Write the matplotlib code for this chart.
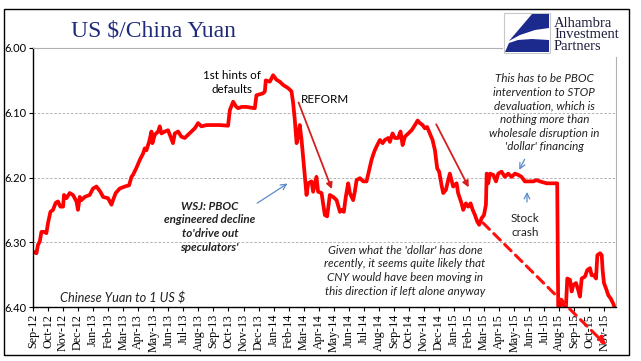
import matplotlib
matplotlib.use("Agg")
import matplotlib.pyplot as plt
from matplotlib.patches import Rectangle, Polygon

# months since Sep-2012 and CNY per USD
months = [0.05, 0.23, 0.33, 0.45, 0.56, 0.78, 0.89, 1.00, 1.16, 1.33, 1.51, 1.66, 1.82, 2.00,
          2.06, 2.22, 2.44, 2.66, 2.89, 2.99, 3.11, 3.22, 3.44, 3.77, 3.99, 4.22, 4.48, 4.66,
          4.99, 5.22, 5.32, 5.50, 5.77, 6.10, 6.39, 6.55, 6.65, 6.88, 7.10, 7.32, 7.43, 7.54,
          7.72, 7.88, 7.94, 8.10, 8.32, 8.43, 8.54, 8.76, 8.98, 9.10, 9.31, 9.43, 9.65, 9.87,
          10.09, 10.31, 10.54, 10.76, 10.98, 11.20, 11.54, 11.98, 12.42, 12.97, 13.09, 13.31,
          13.49, 13.64, 13.87, 14.20, 14.75, 14.86, 15.30, 15.42, 15.48, 15.75, 15.97, 16.19,
          16.41, 16.63, 16.97, 17.19, 17.30, 17.41, 17.53, 17.63, 17.74, 17.86, 17.96, 18.08,
          18.19, 18.30, 18.52, 18.63, 18.85, 18.96, 19.19, 19.29, 19.41, 19.56, 19.74, 19.96,
          20.19, 20.41, 20.52, 20.67, 20.80, 20.96, 21.07, 21.29, 21.40, 21.52, 21.74, 21.96,
          22.18, 22.36, 22.51, 22.62, 22.73, 22.89, 23.07, 23.25, 23.40, 23.62, 23.73, 23.91,
          24.07, 24.28, 24.44, 24.58, 24.73, 24.95, 25.18, 25.40, 25.58, 25.73, 25.91, 26.06,
          26.21, 26.39, 26.57, 26.73, 26.88, 27.01, 27.17, 27.28, 27.46, 27.61, 27.72, 27.94,
          28.17, 28.27, 28.50, 28.61, 28.79, 28.94, 29.10, 29.24, 29.39, 29.54, 29.67, 29.83,
          29.99, 30.12, 30.17, 30.27, 30.39, 30.61, 30.79, 30.94, 31.16, 31.38, 31.60, 31.83,
          32.05, 32.27, 32.49, 32.71, 32.93, 33.27, 33.49, 33.71, 34.16, 34.86, 34.93, 35.15,
          35.30, 35.43, 35.53, 35.71, 35.82, 35.93, 36.11, 36.26, 36.37, 36.49, 36.71, 36.86,
          37.04, 37.15, 37.31, 37.44, 37.53, 37.71, 37.82, 37.88, 37.97, 38.10, 38.26, 38.42,
          38.59, 38.70]
yuan = [6.315, 6.317, 6.304, 6.299, 6.284, 6.284, 6.286, 6.270, 6.253, 6.250, 6.239, 6.237, 6.245, 6.245,
        6.227, 6.232, 6.224, 6.227, 6.237, 6.250, 6.230, 6.235, 6.230, 6.227, 6.217, 6.214, 6.222, 6.230,
        6.232, 6.242, 6.235, 6.224, 6.217, 6.214, 6.212, 6.199, 6.196, 6.185, 6.173, 6.163, 6.155, 6.158,
        6.145, 6.129, 6.147, 6.134, 6.129, 6.121, 6.132, 6.129, 6.127, 6.134, 6.147, 6.132, 6.129, 6.137,
        6.139, 6.134, 6.129, 6.124, 6.116, 6.121, 6.119, 6.119, 6.119, 6.120, 6.096, 6.083,
        6.090, 6.093, 6.091, 6.091, 6.093, 6.073, 6.070, 6.067, 6.050, 6.052, 6.042, 6.049,
        6.052, 6.057, 6.062, 6.067, 6.085, 6.111, 6.147, 6.137, 6.119, 6.142, 6.168, 6.199,
        6.227, 6.209, 6.206, 6.222, 6.199, 6.222, 6.224, 6.240, 6.258, 6.260, 6.227, 6.230,
        6.235, 6.253, 6.250, 6.253, 6.230, 6.209, 6.224, 6.235, 6.222, 6.204, 6.201, 6.206,
        6.206, 6.188, 6.173, 6.165, 6.158, 6.150, 6.142, 6.147, 6.142, 6.139, 6.145, 6.132,
        6.139, 6.139, 6.129, 6.150, 6.137, 6.132, 6.127, 6.119, 6.112, 6.116, 6.119, 6.124,
        6.122, 6.132, 6.142, 6.158, 6.186, 6.191, 6.212, 6.224, 6.219, 6.204, 6.194, 6.214,
        6.209, 6.224, 6.240, 6.250, 6.240, 6.245, 6.240, 6.250, 6.258, 6.268, 6.273, 6.263,
        6.258, 6.242, 6.194, 6.209, 6.194, 6.196, 6.206, 6.194, 6.191, 6.199, 6.194, 6.199,
        6.194, 6.196, 6.199, 6.206, 6.206, 6.206, 6.204, 6.206, 6.209, 6.209, 6.410, 6.389,
        6.397, 6.405, 6.356, 6.358, 6.376, 6.366, 6.363, 6.374, 6.384, 6.356, 6.353, 6.343,
        6.340, 6.351, 6.351, 6.356, 6.320, 6.317, 6.320, 6.343, 6.363, 6.371, 6.382, 6.387,
        6.395, 6.402]

tick_labels = []
for yr in range(12, 16):
    for mo in ["Jan", "Feb", "Mar", "Apr", "May", "Jun", "Jul", "Aug", "Sep", "Oct", "Nov", "Dec"]:
        tick_labels.append("%s-%d" % (mo, yr))
tick_labels = tick_labels[8:47]  # Sep-12 .. Nov-15

sans = "Lato"
navy = "#1F2A7A"
blue = "#5B8BC9"
dark_red = "#D42020"
fs = 8.4

fig = plt.figure(figsize=(6.41, 3.61), dpi=100)
fig.patches.append(Rectangle((4 / 641, 1 - 355 / 361), 625 / 641, 346 / 361, transform=fig.transFigure,
                             fill=False, edgecolor="black", lw=1.0))

ax = fig.add_axes([33 / 641, 1 - 307 / 361, 583 / 641, 259 / 361])
ax.plot(months, yuan, color="#FF0000", lw=2.7, solid_joinstyle="round")

ax.set_xlim(0, 38.77)
ax.set_ylim(6.40, 6.00)
ax.set_yticks([6.00, 6.10, 6.20, 6.30, 6.40])
ax.set_yticklabels(["6.00", "6.10", "6.20", "6.30", "6.40"], fontsize=8, family=sans)
ax.set_xticks(range(len(tick_labels)))
ax.set_xticklabels(tick_labels, rotation=90, fontsize=8.7, family="Liberation Serif")
ax.tick_params(axis="both", direction="out", length=3, width=0.8, pad=2)
for y in [6.10, 6.20, 6.30]:
    ax.axhline(y, color="#A6A6A6", lw=0.6, ls=(0, (3, 2)), zorder=0)
for s in ["top", "right"]:
    ax.spines[s].set_color("#B0B0B0")
    ax.spines[s].set_linewidth(0.8)
for s in ["left", "bottom"]:
    ax.spines[s].set_linewidth(1.0)

# annotations
ax.text(13.23, 6.053, "1st hints of\ndefaults", ha="center", va="center", fontsize=fs,
        family=sans, linespacing=1.3)
ax.text(19.42, 6.080, "REFORM", ha="center", va="center", fontsize=fs, family=sans)
ax.annotate("", xy=(19.94, 6.222), xytext=(17.59, 6.080),
            arrowprops=dict(arrowstyle="-|>", color=dark_red, lw=1.3, mutation_scale=9))
ax.annotate("", xy=(29.06, 6.219), xytext=(26.73, 6.114),
            arrowprops=dict(arrowstyle="-|>", color=dark_red, lw=1.3, mutation_scale=9))
ax.annotate("", xy=(38.25, 6.462), xytext=(29.79, 6.267), annotation_clip=False,
            arrowprops=dict(arrowstyle="-|>", color="#FF1010", lw=2.2, ls=(0, (3, 2)),
                            mutation_scale=11))
ax.text(11.76, 6.276, "WSJ: PBOC\nengineered decline\nto'drive out\nspeculators'", ha="center",
        va="center", fontsize=fs, family=sans, style="italic", weight="bold", linespacing=1.3,
        color="#222222")
ax.annotate("", xy=(17.08, 6.207), xytext=(14.75, 6.242),
            arrowprops=dict(arrowstyle="->", color=blue, lw=0.9))
ax.text(34.0, 6.100, "This has to be PBOC\nintervention to STOP\ndevaluation, which is\n"
        "nothing more than\nwholesale disruption in\n'dollar' financing", ha="center",
        va="center", fontsize=fs, family=sans, style="italic", linespacing=1.3, color="#222222")
ax.annotate("", xy=(32.25, 6.192), xytext=(32.78, 6.168),
            arrowprops=dict(arrowstyle="->", color=blue, lw=0.9))
ax.text(32.75, 6.274, "Stock\ncrash", ha="center", va="center", fontsize=fs, family=sans,
        linespacing=1.3, color="#222222")
ax.annotate("", xy=(32.85, 6.218), xytext=(32.85, 6.242),
            arrowprops=dict(arrowstyle="->", color=blue, lw=0.9))
ax.text(24.73, 6.344, "Given what the 'dollar' has done\nrecently, it seems quite likely that\n"
        "CNY would have been moving in\nthis direction if left alone anyway", ha="center",
        va="center", fontsize=fs, family=sans, style="italic", linespacing=1.3, color="#222222")
ax.text(1.78, 6.386, "Chinese Yuan to 1 US $", ha="left", va="center", fontsize=9.2,
        family=sans, style="italic", color="#222222")

fig.text(153 / 641, 1 - 31 / 361, "US $/China Yuan", ha="center", va="center", fontsize=17,
         family="Liberation Serif", color=navy)

# logo
def px(x, y):
    return (x / 641, 1 - y / 361)

fig.patches.append(Rectangle(px(503, 57), 123 / 641, 44 / 361, transform=fig.transFigure,
                             facecolor="white", edgecolor="none", zorder=5))
fig.patches.append(Rectangle(px(504, 53), 46 / 641, 40 / 361, transform=fig.transFigure,
                             facecolor="white", edgecolor="#C8C8C8", lw=0.8, zorder=6))
fig.patches.append(Polygon([px(549, 14), px(532, 14), px(509, 41), px(520, 35), px(535, 30),
                            px(549, 28)], closed=True, transform=fig.transFigure,
                           facecolor="#1B2A8C", edgecolor="none", zorder=7))
fig.patches.append(Polygon([px(505, 52), px(549, 52), px(549, 40), px(532, 39), px(518, 40),
                            px(509, 43)], closed=True, transform=fig.transFigure,
                           facecolor="#1B2A8C", edgecolor="none", zorder=7))
fig.text(554 / 641, 1 - 35 / 361, "Alhambra\nInvestment\nPartners", ha="left", va="center",
         fontsize=10.5, family="Liberation Serif", color="#1E1E3C", linespacing=0.88, zorder=8)

fig.savefig("out.png", dpi=100)
